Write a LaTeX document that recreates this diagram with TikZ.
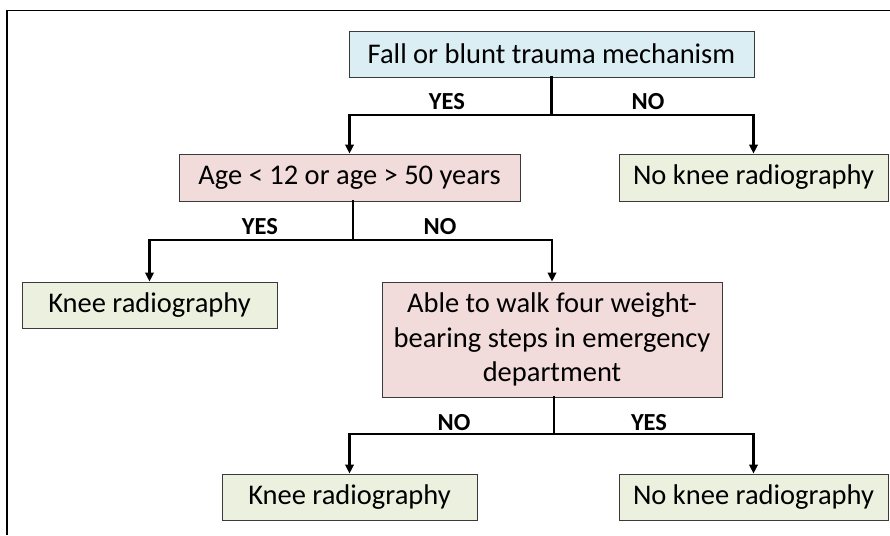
\documentclass[tikz,border=0pt]{standalone}
\usepackage{fontspec}
\setmainfont{Carlito}
\usetikzlibrary{arrows.meta,calc}
\definecolor{boxblue}{HTML}{DBEEF4}
\definecolor{boxpink}{HTML}{F2DCDB}
\definecolor{boxgreen}{HTML}{EBF1DE}
\definecolor{edgegray}{HTML}{3A3A3A}
\begin{document}
\begin{tikzpicture}[x=1pt,y=-1pt,
  box/.style={draw=edgegray,line width=0.9pt,inner sep=0pt,align=center,
    font=\fontsize{28.5}{34.5}\selectfont},
  qbox/.style={box,fill=boxpink},
  sbox/.style={box,fill=boxblue},
  rbox/.style={box,fill=boxgreen},
  conn/.style={line width=2.8pt,line cap=rect},
  arr/.style={conn,-{Triangle[length=9pt,width=8.5pt]}},
  lbl/.style={font=\bfseries\fontsize{24.5}{28}\selectfont,inner sep=0pt}]
\useasboundingbox (0,0) rectangle (890,535);
\draw[line width=1.5pt] (7,535) -- (7,10.5) -- (890,10.5);

\node[sbox,minimum width=405pt,minimum height=46pt] (fall) at (551.5,54) {Fall or blunt trauma mechanism};
\node[qbox,minimum width=341pt,minimum height=47pt] (age) at (349.5,177.5) {Age < 12 or age > 50 years};
\node[rbox,minimum width=269pt,minimum height=47pt] (nokr1) at (753.5,177.5) {No knee radiography};
\node[rbox,minimum width=255pt,minimum height=46pt] (kr1) at (149.5,305) {Knee radiography};
\node[qbox,minimum width=340pt,minimum height=115pt] (able) at (552,339.5) {\raisebox{-3pt}{\parbox{330pt}{\centering Able to walk four weight-\\bearing steps in emergency\\department}}};
\node[rbox,minimum width=255pt,minimum height=46pt] (kr2) at (349.5,497) {Knee radiography};
\node[rbox,minimum width=269pt,minimum height=46pt] (nokr2) at (753.5,497) {No knee radiography};

\coordinate (j1) at (551.5,115);
\coordinate (j2) at (353,240);
\coordinate (j3) at (554,434);

\draw[conn] (fall.south) -- (j1);
\draw[arr] (j1) -| (age.north);
\draw[arr] (j1) -| (nokr1.north);
\draw[conn] (age.south -| j2) -- (j2);
\draw[arr] (j2) -| (kr1.north);
\draw[arr] (j2) -| (able.north);
\draw[conn] (able.south -| j3) -- (j3);
\draw[arr] (j3) -| (kr2.north);
\draw[arr] (j3) -| (nokr2.north);

\node[lbl] (y1) at (447,102) {YES};
\node[lbl] (n1) at (648,102) {NO};
\node[lbl] (y2) at (260,227) {YES};
\node[lbl] (n2) at (440,227) {NO};
\node[lbl] (n3) at (454,423) {NO};
\node[lbl] (y3) at (649,423) {YES};
\end{tikzpicture}
\end{document}
